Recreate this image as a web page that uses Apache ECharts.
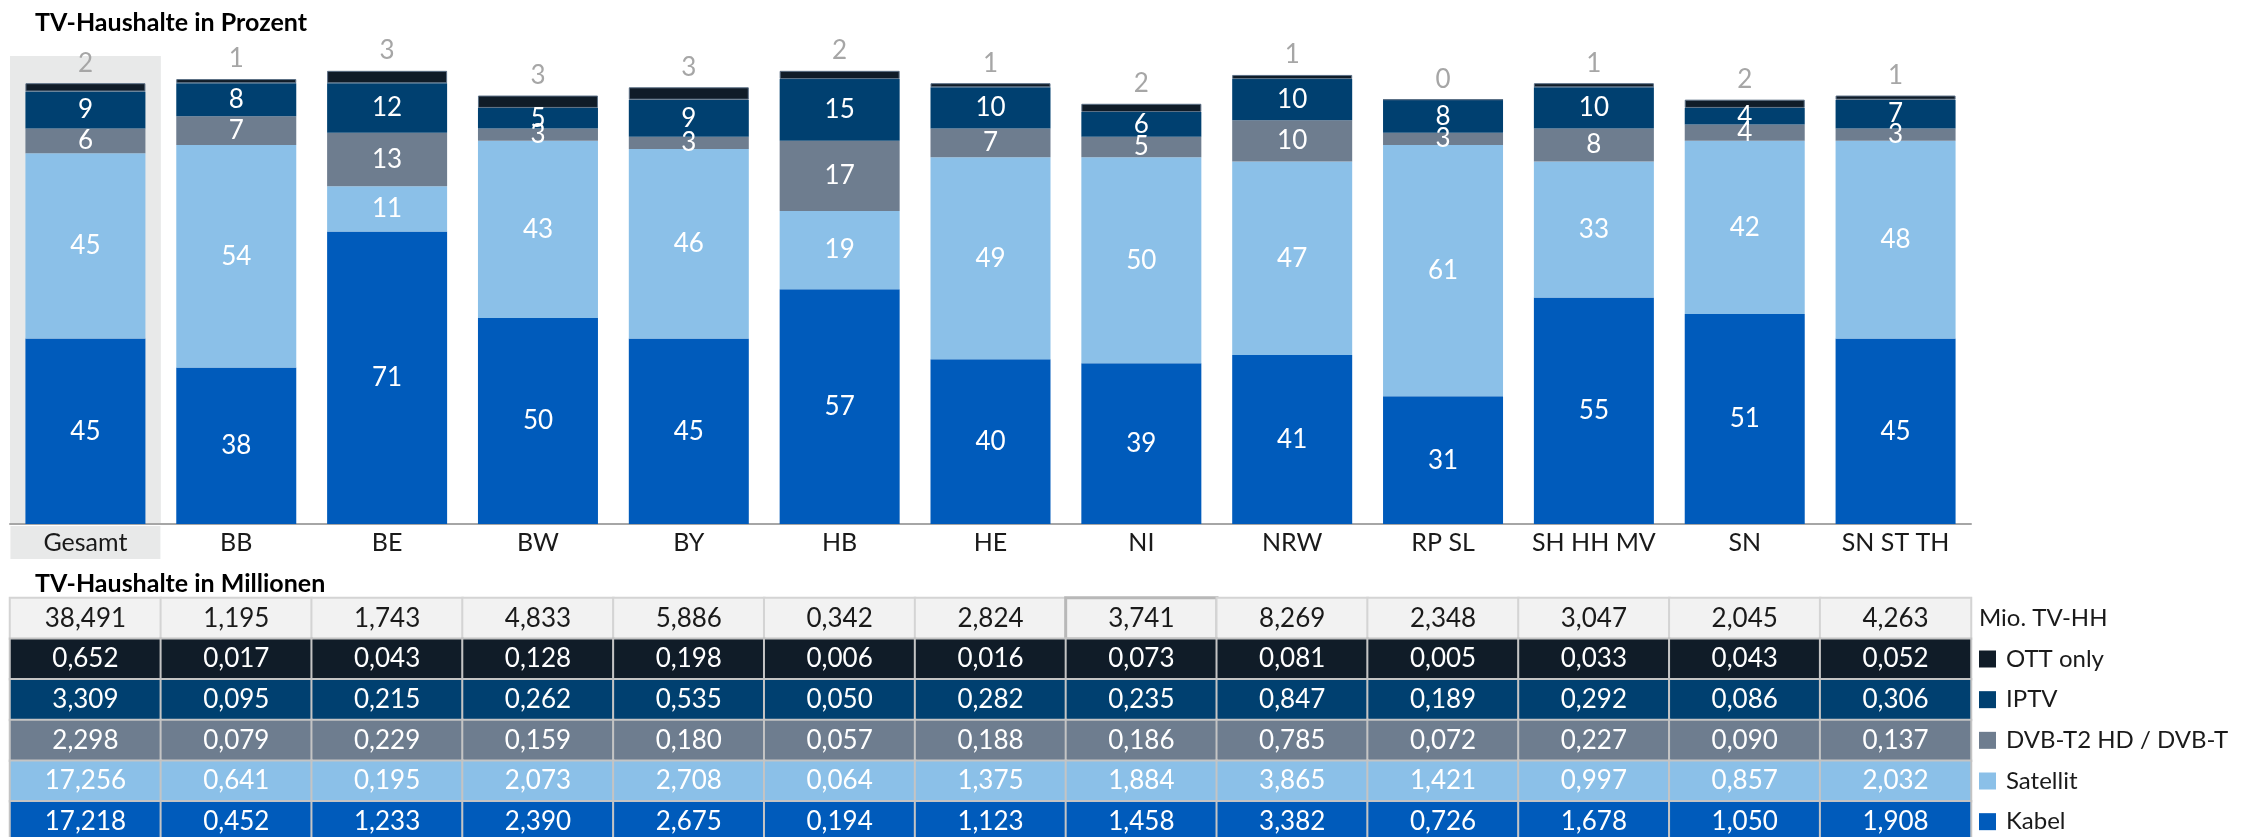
<!DOCTYPE html>
<html>
<head>
<meta charset="utf-8">
<title>TV-Haushalte</title>
<script src="https://cdn.jsdelivr.net/npm/echarts@6.0.0/dist/echarts.min.js"></script>
<style>
    html, body { margin: 0; padding: 0; background: #fff; }
    #chart { width: 2248px; height: 837px; }
</style>
</head>
<body>
<div id="chart"></div>
<script>
var categories = ["Gesamt", "BB", "BE", "BW", "BY", "HB", "HE", "NI", "NRW", "RP SL", "SH HH MV", "SN", "SN ST TH"];

// Prozent (Balken)
var kabelPct = [45, 38, 71, 50, 45, 57, 40, 39, 41, 31, 55, 51, 45];
var satellitPct = [45, 54, 11, 43, 46, 19, 49, 50, 47, 61, 33, 42, 48];
var dvbtPct = [6, 7, 13, 3, 3, 17, 7, 5, 10, 3, 8, 4, 3];
var iptvPct = [9, 8, 12, 5, 9, 15, 10, 6, 10, 8, 10, 4, 7];
var ottPct = [2, 1, 3, 3, 3, 2, 1, 2, 1, 0, 1, 2, 1];

// Millionen (Tabelle)
var totalMio = [38.491, 1.195, 1.743, 4.833, 5.886, 0.342, 2.824, 3.741, 8.269, 2.348, 3.047, 2.045, 4.263];
var ottMio = [0.652, 0.017, 0.043, 0.128, 0.198, 0.006, 0.016, 0.073, 0.081, 0.005, 0.033, 0.043, 0.052];
var iptvMio = [3.309, 0.095, 0.215, 0.262, 0.535, 0.050, 0.282, 0.235, 0.847, 0.189, 0.292, 0.086, 0.306];
var dvbtMio = [2.298, 0.079, 0.229, 0.159, 0.180, 0.057, 0.188, 0.186, 0.785, 0.072, 0.227, 0.090, 0.137];
var satellitMio = [17.256, 0.641, 0.195, 2.073, 2.708, 0.064, 1.375, 1.884, 3.865, 1.421, 0.997, 0.857, 2.032];
var kabelMio = [17.218, 0.452, 1.233, 2.390, 2.675, 0.194, 1.123, 1.458, 3.382, 0.726, 1.678, 1.050, 1.908];

var rowNames = ["Mio. TV-HH", "OTT only", "IPTV", "DVB-T2 HD / DVB-T", "Satellit", "Kabel"];

var font = "Lato, 'Open Sans', sans-serif";
var colors = {
    kabel: "#005bbb",
    satellit: "#8bc0e8",
    dvbt: "#6e7d8f",
    iptv: "#004070",
    ott: "#101c28",
    total: "#f2f2f2"
};

function fmt(v) {
    return v.toFixed(3).replace(".", ",");
}

function barSeries(name, data, color) {
    return {
        name: name,
        type: "bar",
        stack: "pct",
        barWidth: 120,
        data: data,
        itemStyle: { color: color },
        label: {
            show: true,
            position: "inside",
            color: "#fff",
            fontSize: 26,
            fontFamily: font
        }
    };
}

function tableSeries(name, rowIndex, values, color, textColor) {
    var data = values.map(function (v, i) {
        var item = { value: [i, rowIndex, v] };
        //markierte Zelle (NI)
        if (rowIndex === 0 && i === 7) {
            item.itemStyle = { borderColor: "#b8b8b8", borderWidth: 3 };
        }
        return item;
    });
    return {
        name: name,
        type: "heatmap",
        xAxisIndex: 1,
        yAxisIndex: 1,
        data: data,
        itemStyle: { color: color, borderColor: rowIndex === 0 ? "#d4d4d4" : "#c4c4c4", borderWidth: 2 },
        label: {
            show: true,
            color: textColor,
            fontSize: 26,
            fontFamily: font,
            formatter: function (p) { return fmt(p.value[2]); }
        },
        emphasis: { disabled: true }
    };
}

var ottSeries = barSeries("OTT only", ottPct, colors.ott);
ottSeries.itemStyle = { color: colors.ott, borderColor: "#5b6f85", borderWidth: 1 };
ottSeries.label = {
    show: true,
    position: "top",
    distance: 7,
    color: "#a6a6a6",
    fontSize: 26,
    fontFamily: font
};

var splitColors = categories.map(function (c, i) { return i === 0 ? "#e8e9e9" : "rgba(255,255,255,0)"; });

var option = {
    animation: false,
    backgroundColor: "#fff",
    textStyle: { fontFamily: font },
    title: [
        { text: "TV-Haushalte in Prozent", left: 30, top: 5, textStyle: { fontSize: 25, fontWeight: "bold", color: "#000", fontFamily: font } },
        { text: "TV-Haushalte in Millionen", left: 30, top: 566, textStyle: { fontSize: 25, fontWeight: "bold", color: "#000", fontFamily: font } }
    ],
    grid: [
        { left: 10, right: 277, top: 56, bottom: 313, outerBoundsMode: "none" },
        { left: 10, right: 277, top: 598, height: 244, outerBoundsMode: "none" }
    ],
    xAxis: [
        {
            type: "category",
            data: categories,
            axisLine: { lineStyle: { color: "#a6a6a6", width: 2 } },
            axisTick: { show: false },
            splitArea: { show: true, areaStyle: { color: splitColors } },
            axisLabel: {
                margin: 2,
                interval: 0,
                formatter: function (v) { return v === "Gesamt" ? "{g|" + v + "}" : "{n|" + v + "}"; },
                rich: {
                    g: { backgroundColor: "#e8e9e9", width: 150, height: 33, lineHeight: 33, align: "center", fontSize: 25, color: "#1a1a1a", fontFamily: font },
                    n: { width: 150, height: 33, lineHeight: 33, align: "center", fontSize: 25, color: "#1a1a1a", fontFamily: font }
                }
            }
        },
        {
            type: "category",
            gridIndex: 1,
            data: categories,
            show: false
        }
    ],
    yAxis: [
        { type: "value", min: 0, max: 113.6, show: false },
        {
            type: "category",
            gridIndex: 1,
            data: rowNames,
            inverse: true,
            position: "right",
            axisLine: { show: false },
            axisTick: { show: false },
            axisLabel: {
                margin: 8,
                align: "left",
                formatter: function (v, i) { return i === 0 ? "{t0|" + v + "}" : "{m" + i + "|}{t|" + v + "}"; },
                rich: {
                    t0: { fontSize: 24, color: "#1a1a1a", fontFamily: font },
                    t: { fontSize: 24, color: "#1a1a1a", fontFamily: font, padding: [0, 0, 0, 10] },
                    m1: { width: 17, height: 17, backgroundColor: colors.ott },
                    m2: { width: 17, height: 17, backgroundColor: colors.iptv },
                    m3: { width: 17, height: 17, backgroundColor: colors.dvbt },
                    m4: { width: 17, height: 17, backgroundColor: colors.satellit },
                    m5: { width: 17, height: 17, backgroundColor: colors.kabel }
                }
            }
        }
    ],
    series: [
        barSeries("Kabel", kabelPct, colors.kabel),
        barSeries("Satellit", satellitPct, colors.satellit),
        barSeries("DVB-T2 HD / DVB-T", dvbtPct, colors.dvbt),
        barSeries("IPTV", iptvPct, colors.iptv),
        ottSeries,
        tableSeries("Mio. TV-HH", 0, totalMio, colors.total, "#1a1a1a"),
        tableSeries("OTT only", 1, ottMio, colors.ott, "#fff"),
        tableSeries("IPTV", 2, iptvMio, colors.iptv, "#fff"),
        tableSeries("DVB-T2 HD / DVB-T", 3, dvbtMio, colors.dvbt, "#fff"),
        tableSeries("Satellit", 4, satellitMio, colors.satellit, "#fff"),
        tableSeries("Kabel", 5, kabelMio, colors.kabel, "#fff")
    ]
};

echarts.init(document.getElementById("chart"), null, { renderer: "canvas" }).setOption(option);
</script>
</body>
</html>
